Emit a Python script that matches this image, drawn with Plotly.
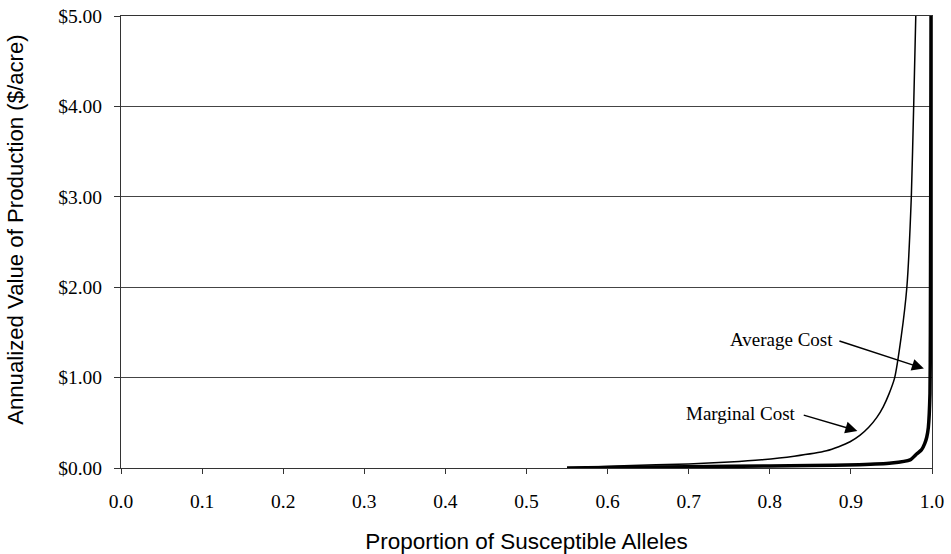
import plotly.graph_objects as go

# Proportion of susceptible alleles (x) and annualized value ($/acre)
mc_x = [0.55, 0.62, 0.70, 0.75, 0.79, 0.83, 0.87, 0.885, 0.899, 0.911, 0.922,
        0.932, 0.940, 0.947, 0.954, 0.962, 0.969, 0.9745, 0.9774, 0.980]
mc_y = [0.0, 0.025, 0.045, 0.065, 0.09, 0.13, 0.19, 0.235, 0.29, 0.36, 0.45,
        0.56, 0.68, 0.82, 1.00, 1.45, 2.00, 3.00, 4.00, 5.00]

ac_x = [0.55, 0.65, 0.75, 0.85, 0.91, 0.95, 0.973, 0.981, 0.987, 0.991,
        0.9935, 0.9955, 0.9975, 0.998, 0.9984, 0.9988]
ac_y = [0.0, 0.01, 0.018, 0.027, 0.036, 0.055, 0.09, 0.155, 0.2, 0.27,
        0.34, 0.45, 0.82, 1.5, 3.0, 5.0]

x_ticks = [0.0, 0.1, 0.2, 0.3, 0.4, 0.5, 0.6, 0.7, 0.8, 0.9, 1.0]
y_ticks = [0, 1, 2, 3, 4, 5]

x_title = "Proportion of Susceptible Alleles"
y_title = "Annualized Value of Production ($/acre)"

# annotation anchors (data coords): label centre and arrow tip
ac_label = ("Average Cost", 0.8150, 1.42)
ac_arrow_from = (0.884, 1.41)
ac_arrow_to = (0.990, 1.10)
mc_label = ("Marginal Cost", 0.7650, 0.60)
mc_arrow_from = (0.840, 0.59)
mc_arrow_to = (0.908, 0.41)

SERIF = "Liberation Serif, Times New Roman, serif"
SANS = "Liberation Sans, Arial, sans-serif"

fig = go.Figure()
fig.add_trace(go.Scatter(x=mc_x, y=mc_y, mode="lines", name="Marginal Cost",
                         line=dict(color="black", width=1.5, shape="spline", smoothing=0.5)))
fig.add_trace(go.Scatter(x=ac_x, y=ac_y, mode="lines", name="Average Cost",
                         line=dict(color="black", width=3.5, shape="spline", smoothing=0.5)))

annotations = []
for (txt, lx, ly), (fx, fy), (tx, ty) in [
        (ac_label, ac_arrow_from, ac_arrow_to),
        (mc_label, mc_arrow_from, mc_arrow_to)]:
    annotations.append(dict(x=lx, y=ly, xref="x", yref="y", text=txt,
                            showarrow=False, font=dict(family=SERIF, size=19, color="black")))
    annotations.append(dict(x=tx, y=ty, ax=fx, ay=fy, xref="x", yref="y",
                            axref="x", ayref="y", text="", showarrow=True,
                            arrowhead=2, arrowsize=1.6, arrowwidth=1.5,
                            arrowcolor="black", standoff=0, startstandoff=0))

# vertical axis title (placed slightly above the axis centre, as in the original)
annotations.append(dict(x=-0.1295, y=0.529, xref="paper", yref="paper",
                        text=y_title, textangle=-90, showarrow=False,
                        xanchor="center", yanchor="middle",
                        font=dict(family=SANS, size=22.2, color="black")))

fig.update_layout(
    width=951, height=554,
    margin=dict(l=121, r=19, t=16, b=86),
    paper_bgcolor="white", plot_bgcolor="white",
    showlegend=False,
    annotations=annotations,
    xaxis=dict(range=[0, 1.0], tickvals=x_ticks, ticktext=[f"{v:.1f}" for v in x_ticks],
               automargin=False,
               showgrid=False, zeroline=False,
               showline=True, linecolor="#333", linewidth=1, mirror=True,
               ticks="outside", ticklen=5, tickcolor="#333",
               ticklabelstandoff=11,
               tickfont=dict(family=SERIF, size=19.5, color="black"),
               title=dict(text=x_title, standoff=21,
                          font=dict(family=SANS, size=22.5, color="black"))),
    yaxis=dict(range=[0, 5], tickvals=y_ticks, ticktext=[f"${v:.2f}" for v in y_ticks],
               automargin=False, ticklabeloverflow="allow",
               showgrid=True, gridcolor="#444", gridwidth=1, zeroline=False,
               showline=True, linecolor="#333", linewidth=1, mirror=True,
               ticks="outside", ticklen=6, tickcolor="#333",
               ticklabelstandoff=8,
               tickfont=dict(family=SERIF, size=19.5, color="black")),
)

# remove the default 8px page margin so the figure fills the window exactly
fig.write_html("out.html",
               config={"displayModeBar": False},
               post_script="document.body.style.margin='0';document.body.style.padding='0';")
